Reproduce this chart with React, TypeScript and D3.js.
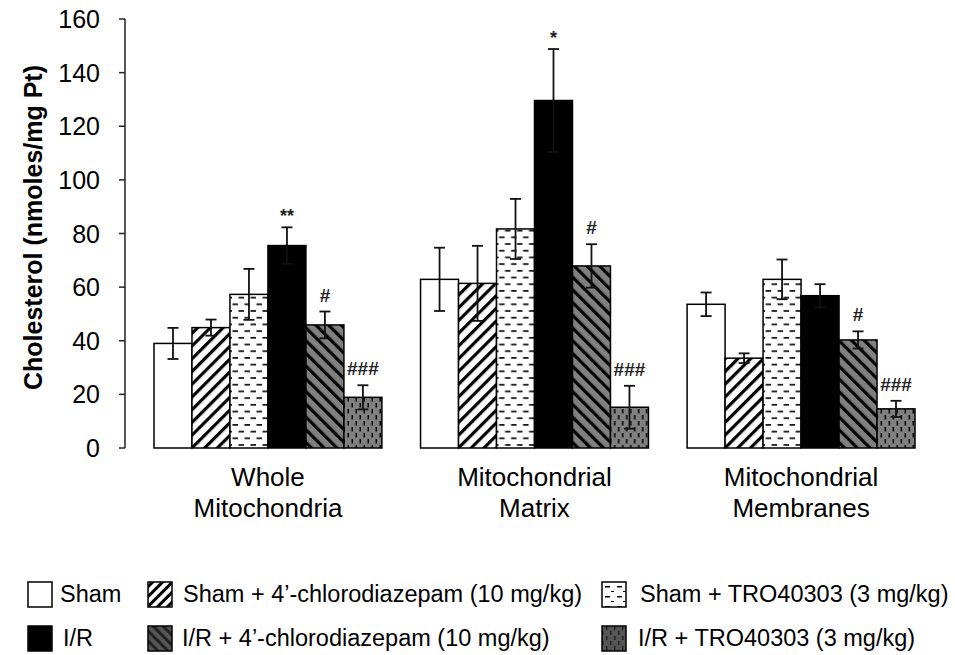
import React from "react";
import * as d3 from "d3";

const categories = ["Whole Mitochondria", "Mitochondrial Matrix", "Mitochondrial Membranes"];
const categoryLines = [["Whole", "Mitochondria"], ["Mitochondrial", "Matrix"], ["Mitochondrial", "Membranes"]];
const seriesNames = [
  "Sham",
  "Sham + 4\u2019-chlorodiazepam (10 mg/kg)",
  "Sham + TRO40303 (3 mg/kg)",
  "I/R",
  "I/R + 4\u2019-chlorodiazepam (10 mg/kg)",
  "I/R + TRO40303 (3 mg/kg)",
];
const shamValues = [39, 62.9, 53.6];
const shamErr = [5.8, 11.8, 4.4];
const shamChloroValues = [44.9, 61.4, 33.5];
const shamChloroErr = [3, 14, 1.8];
const shamTroValues = [57.3, 81.7, 62.9];
const shamTroErr = [9.5, 11.2, 7.4];
const irValues = [75.5, 129.6, 56.8];
const irErr = [6.8, 19.2, 4.3];
const irChloroValues = [45.9, 67.9, 40.3];
const irChloroErr = [5, 8.1, 3.2];
const irTroValues = [18.9, 15.2, 14.6];
const irTroErr = [4.5, 8, 3];
const noMarks = ["", "", ""];
const irMarks = ["**", "*", ""];
const irChloroMarks = ["#", "#", "#"];
const irTroMarks = ["###", "###", "###"];
const yTicks = [0, 20, 40, 60, 80, 100, 120, 140, 160];
const yLabel = "Cholesterol (nmoles/mg Pt)";

const seriesValues = [shamValues, shamChloroValues, shamTroValues, irValues, irChloroValues, irTroValues];
const seriesErr = [shamErr, shamChloroErr, shamTroErr, irErr, irChloroErr, irTroErr];
const seriesMarks = [noMarks, noMarks, noMarks, irMarks, irChloroMarks, irTroMarks];
const fills = ["#ffffff", "url(#hUp)", "url(#dashH)", "#000000", "url(#hDown)", "url(#dashV)"];
const legendFills = ["#ffffff", "url(#hUpL)", "url(#dashHL)", "#000000", "url(#hDownL)", "url(#dashVL)"];

const FONT = "'Liberation Sans', Arial, sans-serif";

export default function App() {
  const y = d3.scaleLinear().domain([0, 160]).range([448, 19]);
  const x0 = d3.scaleBand<string>().domain(categories).range([154, 915]).paddingInner(0.145).paddingOuter(0);
  const x1 = d3.scaleBand<string>().domain(seriesNames).range([0, x0.bandwidth()]).padding(0);

  const legendPos = [
    { bx: 28, tx: 60, row: 0 },
    { bx: 148, tx: 183, row: 0 },
    { bx: 602, tx: 640, row: 0 },
    { bx: 28, tx: 63, row: 1 },
    { bx: 148, tx: 182, row: 1 },
    { bx: 602, tx: 638, row: 1 },
  ];
  const rowBoxY = [582, 626];
  const rowBase = [602, 646];

  return (
    <svg width={955} height={655} style={{ position: "absolute", left: 0, top: 0, background: "#fff" }} fontFamily={FONT}>
      <defs>
        <pattern id="hUp" patternUnits="userSpaceOnUse" width={9} height={9} patternTransform="rotate(45)">
          <rect width={9} height={9} fill="#fff" />
          <rect x={0} y={0} width={3.2} height={9} fill="#000" />
        </pattern>
        <pattern id="hDown" patternUnits="userSpaceOnUse" width={9} height={9} patternTransform="rotate(-45)">
          <rect width={9} height={9} fill="#808080" />
          <rect x={0} y={0} width={3.2} height={9} fill="#000" />
        </pattern>
        <pattern id="dashH" patternUnits="userSpaceOnUse" width={12} height={13.4}>
          <rect width={12} height={13.4} fill="#fff" />
          <rect x={0.5} y={2} width={5.5} height={1.6} fill="#000" />
          <rect x={6.5} y={8.7} width={5.5} height={1.6} fill="#000" />
        </pattern>
        <pattern id="dashV" patternUnits="userSpaceOnUse" width={8} height={12}>
          <rect width={8} height={12} fill="#808080" />
          <rect x={1.5} y={1} width={1.5} height={4.5} fill="#000" />
          <rect x={5.5} y={7} width={1.5} height={4.5} fill="#000" />
        </pattern>
        <pattern id="hUpL" patternUnits="userSpaceOnUse" width={7} height={7} patternTransform="rotate(45)">
          <rect width={7} height={7} fill="#fff" />
          <rect x={0} y={0} width={3} height={7} fill="#000" />
        </pattern>
        <pattern id="hDownL" patternUnits="userSpaceOnUse" width={7} height={7} patternTransform="rotate(-45)">
          <rect width={7} height={7} fill="#555" />
          <rect x={0} y={0} width={3} height={7} fill="#222" />
        </pattern>
        <pattern id="dashHL" patternUnits="userSpaceOnUse" width={12} height={10} x={602} y={582}>
          <rect width={12} height={10} fill="#fff" />
          <rect x={3} y={4} width={5} height={1.5} fill="#000" />
          <rect x={9} y={9} width={5} height={1.5} fill="#000" />
        </pattern>
        <pattern id="dashVL" patternUnits="userSpaceOnUse" width={8} height={10}>
          <rect width={8} height={10} fill="#555" />
          <rect x={2} y={1} width={1.5} height={4} fill="#222" />
          <rect x={6} y={6} width={1.5} height={4} fill="#222" />
        </pattern>
      </defs>

      {/* Y axis */}
      <line x1={125} x2={125} y1={y(160)} y2={y(0)} stroke="#222" strokeWidth={1.5} />
      {yTicks.map((t) => (
        <g key={t}>
          <line x1={119} x2={125} y1={y(t)} y2={y(t)} stroke="#222" strokeWidth={1.5} />
          <text x={100} y={y(t)} dy="0.36em" textAnchor="end" fontSize={25} fill="#000">
            {t}
          </text>
        </g>
      ))}
      <text
        transform={`translate(42, ${y(80) - 6}) rotate(-90)`}
        textAnchor="middle"
        fontSize={25}
        fontWeight="bold"
        fill="#000"
      >
        {yLabel}
      </text>

      {/* Bars */}
      {categories.map((c, ci) => (
        <g key={c} transform={`translate(${x0(c)},0)`}>
          {seriesNames.map((s, si) => {
            const v = seriesValues[si][ci];
            const e = seriesErr[si][ci];
            const bx = x1(s)!;
            const bw = x1.bandwidth();
            const cx = bx + bw / 2;
            const mark = seriesMarks[si][ci] || "";
            const star = mark.startsWith("*");
            return (
              <g key={s}>
                <rect x={bx} y={y(v)} width={bw} height={y(0) - y(v)} fill={fills[si]} stroke="#000" strokeWidth={1.5} />
                <line x1={cx} x2={cx} y1={y(v + e)} y2={y(v - e)} stroke="#111" strokeWidth={1.8} />
                <line x1={cx - 5.5} x2={cx + 5.5} y1={y(v + e)} y2={y(v + e)} stroke="#111" strokeWidth={1.8} />
                <line x1={cx - 5.5} x2={cx + 5.5} y1={y(v - e)} y2={y(v - e)} stroke="#111" strokeWidth={1.8} />
                {mark ? (
                  <text
                    x={cx}
                    y={y(v + e) - (star ? 5 : 10)}
                    textAnchor="middle"
                    fontSize={star ? 18 : 19}
                    fontWeight="bold"
                    fill="#222"
                  >
                    {mark}
                  </text>
                ) : null}
              </g>
            );
          })}
          {categoryLines[ci].map((ln, li) => (
            <text key={li} x={x0.bandwidth() / 2} y={486 + li * 31} textAnchor="middle" fontSize={26} fill="#000">
              {ln}
            </text>
          ))}
        </g>
      ))}

      {/* Legend */}
      {seriesNames.map((s, si) => {
        const p = legendPos[si];
        return (
          <g key={s}>
            <rect x={p.bx} y={rowBoxY[p.row]} width={24} height={25} fill={legendFills[si]} stroke="#000" strokeWidth={1.5} />
            <text x={p.tx} y={rowBase[p.row]} fontSize={23.5} fill="#000">
              {s}
            </text>
          </g>
        );
      })}
    </svg>
  );
}
